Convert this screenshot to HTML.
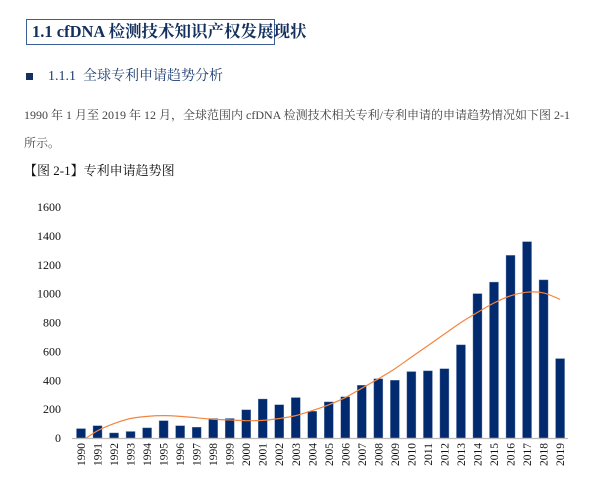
<!DOCTYPE html>
<html><head><meta charset="utf-8"><style>
body{margin:0;width:608px;height:486px;background:#fff;position:relative;overflow:hidden;font-family:"Liberation Serif","Noto Serif CJK SC",serif}
.a{position:absolute;white-space:nowrap}
</style></head><body>
<div class="a" style="left:26px;top:19px;width:242px;height:24px;border:1.5px solid #3b5e96;color:#14305e;font-weight:bold;font-size:16.5px;line-height:24px;padding-left:5px">1.1 cfDNA 检测技术知识产权发展现状</div>
<div class="a" style="left:26px;top:73px;width:7px;height:7px;background:#14305e"></div>
<div class="a" style="left:48px;top:67px;color:#1d3d70;font-size:14px;line-height:20px">1.1.1&nbsp; 全球专利申请趋势分析</div>
<div class="a" style="left:24px;top:101px;color:#444;font-size:12px;line-height:28px">1990 年 1 月至 2019 年 12 月，全球范围内 cfDNA 检测技术相关专利/专利申请的申请趋势情况如下图 2-1<br>所示。</div>
<div class="a" style="left:24px;top:161px;color:#111;font-size:13px;line-height:20px">【图 2-1】专利申请趋势图</div>
<svg class="a" style="left:0;top:0" width="608" height="486">
<defs><clipPath id="cp"><rect x="60" y="190" width="540" height="248"/></clipPath></defs>
<g id="g"></g>
</svg>
<script>
const years=[1990,1991,1992,1993,1994,1995,1996,1997,1998,1999,2000,2001,2002,2003,2004,2005,2006,2007,2008,2009,2010,2011,2012,2013,2014,2015,2016,2017,2018,2019];
const counts=[65,85,35,45,70,120,85,75,135,135,195,270,230,280,185,250,285,365,410,400,460,465,480,645,1000,1080,1265,1360,1095,550];
const trend=[-25,50,100,135,150,155,150,140,130,125,120,122,135,155,190,230,280,345,410,480,560,640,720,800,870,935,985,1010,1005,960];
const yTicks=[0,200,400,600,800,1000,1200,1400,1600];
const NS='http://www.w3.org/2000/svg',g=document.getElementById('g');
const x=i=>81+i*16.52, y=v=>438-v*231/1600;
function mk(t,a,p){const e=document.createElementNS(NS,t);for(const k in a)e.setAttribute(k,a[k]);(p||g).appendChild(e);return e;}
yTicks.forEach(v=>{const t=mk('text',{x:61,y:y(v)+4,'text-anchor':'end','font-size':12,fill:'#111','font-family':'Liberation Serif'});t.textContent=v;
});
counts.forEach((v,i)=>{const r=mk('rect',{x:x(i)-4.5,y:y(v),width:9,height:438-y(v),fill:'#022a6e',stroke:'#6d86b3','stroke-width':0.4});

const t=mk('text',{transform:`translate(${x(i)+4},${443}) rotate(-90)`,'text-anchor':'end','font-size':11.5,fill:'#111','font-family':'Liberation Serif'});t.textContent=years[i];
});
const ax=mk('line',{x1:72,x2:568,y1:438.5,y2:438.5,stroke:'#bbb','stroke-width':1.2});

const P=trend.map((v,i)=>[x(i),y(v)]);let d='M'+P[0];
for(let i=0;i<P.length-1;i++){const p0=P[Math.max(i-1,0)],p1=P[i],p2=P[i+1],p3=P[Math.min(i+2,P.length-1)];
d+=` C${p1[0]+(p2[0]-p0[0])/6},${p1[1]+(p2[1]-p0[1])/6} ${p2[0]-(p3[0]-p1[0])/6},${p2[1]-(p3[1]-p1[1])/6} ${p2[0]},${p2[1]}`;}
const tl=mk('path',{d:d,fill:'none',stroke:'#f5843f','stroke-width':1.2,'clip-path':'url(#cp)'});

</script>
</body></html>
